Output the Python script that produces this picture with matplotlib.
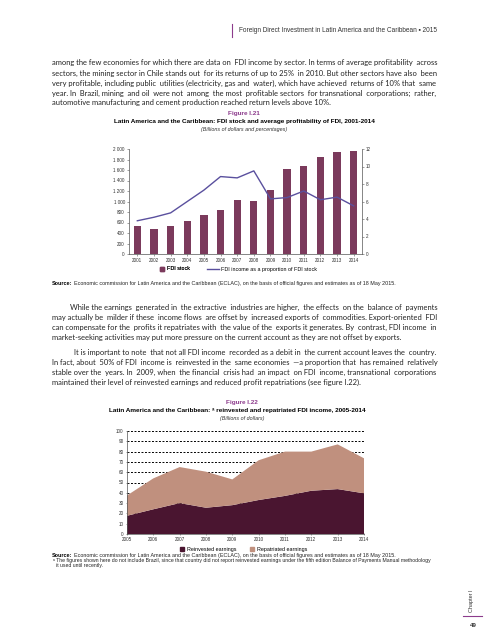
import numpy as np
import matplotlib
matplotlib.use("Agg")
import matplotlib.pyplot as plt
from matplotlib.lines import Line2D
from matplotlib.ticker import FuncFormatter

W, H = 489, 640

# figure I.21 data
years21 = [str(y) for y in range(2001, 2015)]
fdi_stock = [535, 478, 535, 632, 745, 842, 1030, 1013, 1218, 1626, 1684, 1855, 1950, 1970]
fdi_return = [3.8, 4.2, 4.7, 6.0, 7.3, 8.85, 8.7, 9.5, 6.3, 6.45, 7.2, 6.2, 6.5, 5.5]

# figure I.22 data
years22 = list(range(2005, 2015))
reinvested = [17.7, 24, 30, 25.5, 28, 33, 37, 42, 43.6, 39.5]
total_income = [37.4, 54, 65, 60.5, 53, 71.6, 80, 80, 87, 73.5]
repatriated = [t - r for t, r in zip(total_income, reinvested)]

para1 = [
    "among the few economies for which there are data on FDI income by sector. In terms of average profitability across",
    "sectors, the mining sector in Chile stands out for its returns of up to 25% in 2010. But other sectors have also been",
    "very profitable, including public utilities (electricity, gas and water), which have achieved returns of 10% that same",
    "year. In Brazil, mining and oil were not among the most profitable sectors for transnational corporations; rather,",
    "automotive manufacturing and cement production reached return levels above 10%.",
]
para2 = [
    "While the earnings generated in the extractive industries are higher, the effects on the balance of payments",
    "may actually be milder if these income flows are offset by increased exports of commodities. Export-oriented FDI",
    "can compensate for the profits it repatriates with the value of the exports it generates. By contrast, FDI income in",
    "market-seeking activities may put more pressure on the current account as they are not offset by exports.",
]
para3 = [
    "It is important to note that not all FDI income recorded as a debit in the current account leaves the country.",
    "In fact, about 50% of FDI income is reinvested in the same economies \u2014a proportion that has remained relatively",
    "stable over the years. In 2009, when the financial crisis had an impact on FDI income, transnational corporations",
    "maintained their level of reinvested earnings and reduced profit repatriations (see figure I.22).",
]
source_text = ("Economic commission for Latin America and the Caribbean (ECLAC), on the basis of official "
               "figures and estimates as of 18 May 2015.")

BODY = 'Lato'
CHART = ['Liberation Sans', 'DejaVu Sans']
PURPLE = '#8c3b8c'
BAR = '#7b3a5c'
LINE = '#5a509e'
DARK = '#4a1530'
LIGHT = '#c0907e'
X0, X1 = 52, 437


def fx(x):
    return x / W


def fy(y):
    return 1 - y / H


def text_width(fig, s, size):
    t = fig.text(0, 0, s, family=BODY, size=size)
    w = t.get_window_extent(fig.canvas.get_renderer()).width
    t.remove()
    return w


def justified(fig, lines, y0, dy, indent=0, size=5.8):
    # pad the gaps with extra spaces so that each line (except the last) fills X0..X1
    space = text_width(fig, "a a", size) - text_width(fig, "aa", size)
    for i, line in enumerate(lines):
        xs = X0 + (indent if i == 0 else 0)
        y = y0 + i * dy
        if i < len(lines) - 1:
            words = line.split()
            n = max(0, int(round((X1 - xs - text_width(fig, line, size)) / space)))
            gaps = len(words) - 1
            parts = []
            for k, word in enumerate(words[:-1]):
                add = (n * (k + 1)) // gaps - (n * k) // gaps
                parts.append(word + " " * (1 + add))
            line = "".join(parts) + words[-1]
        fig.text(fx(xs), fy(y), line, family=BODY, size=size, va='center_baseline', color='#222222')


def fit_size(fig, paras, size=6.3):
    ratio = 0
    for lines, indent in paras:
        for i, l in enumerate(lines[:-1]):
            avail = X1 - X0 - (indent if i == 0 else 0)
            ratio = max(ratio, text_width(fig, l, size) / avail)
    return min(size, size / ratio * 0.995)


def source_line(fig, y, size=3.9):
    renderer = fig.canvas.get_renderer()
    t = fig.text(fx(52), fy(y), "Source:", family=CHART, size=size, weight='bold', va='center')
    w = t.get_window_extent(renderer).width
    fig.text(fx(52 + w + 2), fy(y), source_text, family=CHART, size=size, va='center', color='#222222')


fig = plt.figure(figsize=(W / 100, H / 100), dpi=100)

# page header
fig.add_artist(Line2D([fx(232), fx(232)], [fy(24), fy(37)], color=PURPLE, lw=0.8))
fig.text(fx(437), fy(30.5), "Foreign Direct Investment in Latin America and the Caribbean \u25aa 2015",
         family=CHART, size=4.7, ha='right', va='center', color='#333333')

body_size = fit_size(fig, [(para1, 0), (para2, 18), (para3, 22)])
justified(fig, para1, 62.5, 10, size=body_size)
justified(fig, para2, 307, 10, indent=18, size=body_size)
justified(fig, para3, 352, 10, indent=22, size=body_size)

# ---------------- Figure I.21 ----------------
fig.text(fx(244), fy(113.5), "Figure I.21", family=CHART, size=4.6, weight='bold', color=PURPLE, ha='center', va='center')
fig.text(fx(244), fy(121.5), "Latin America and the Caribbean: FDI stock and average profitability of FDI, 2001-2014",
         family=CHART, size=4.6, weight='bold', ha='center', va='center')
fig.text(fx(244), fy(129), "(Billions of dollars and percentages)", family=CHART, size=3.9, style='italic',
         ha='center', va='center', color='#333333')

ax1 = fig.add_axes([fx(129), fy(254), (362 - 129) / W, (254 - 149) / H])
x = np.arange(len(years21))
ax1.bar(x, fdi_stock, width=0.44, color=BAR, zorder=2)
ax1.set_xlim(-0.5, len(years21) - 0.5)
ax1.set_ylim(0, 2000)
ax1.set_yticks(range(0, 2001, 200))
ax1.yaxis.set_major_formatter(FuncFormatter(lambda v, p: f"{int(v):,}".replace(",", " ")))
ax1.set_xticks(x)
ax1.set_xticklabels(years21)
ax1r = ax1.twinx()
ax1r.plot(x, fdi_return, color=LINE, lw=1.0, zorder=3)
ax1r.set_ylim(0, 12)
ax1r.set_yticks(range(0, 13, 2))
for a in (ax1, ax1r):
    a.spines['top'].set_visible(False)
    for s in a.spines.values():
        s.set_linewidth(0.5)
        s.set_color('#555555')
    a.tick_params(labelsize=3.3, length=1.5, width=0.4, pad=1.5, colors='#555555', labelcolor='#333333')
ax1.spines['right'].set_visible(False)
ax1r.spines['left'].set_visible(False)
ax1r.spines['bottom'].set_visible(False)
for lbl in ax1.get_xticklabels() + ax1.get_yticklabels() + ax1r.get_yticklabels():
    lbl.set_family(CHART)

leg_a = fig.legend([Line2D([], [], ls='', marker='s', markersize=3.2, color=BAR)], ["FDI stock"],
                   loc='center', bbox_to_anchor=(fx(175), fy(269)), frameon=False,
                   prop={'family': CHART, 'size': 3.9}, handlelength=0.8, handletextpad=0.5)
fig.legend([Line2D([], [], color=LINE, lw=1.0)], ["FDI income as a proportion of FDI stock"],
           loc='center', bbox_to_anchor=(fx(262), fy(269)), frameon=False,
           prop={'family': CHART, 'size': 3.9}, handlelength=2.2, handletextpad=0.5)
fig.add_artist(leg_a)

source_line(fig, 283.5)

# ---------------- Figure I.22 ----------------
fig.text(fx(242), fy(402.5), "Figure I.22", family=CHART, size=4.6, weight='bold', color=PURPLE, ha='center', va='center')
fig.text(fx(237), fy(410.7), "Latin America and the Caribbean: \u1d43 reinvested and repatriated FDI income, 2005-2014",
         family=CHART, size=4.6, weight='bold', ha='center', va='center')
fig.text(fx(242), fy(418.5), "(Billions of dollars)", family=CHART, size=3.9, style='italic',
         ha='center', va='center', color='#333333')

ax2 = fig.add_axes([fx(127), fy(534), (364 - 127) / W, (534 - 431) / H])
ax2.stackplot(years22, reinvested, repatriated, colors=[DARK, LIGHT], zorder=2)
ax2.set_xlim(2005, 2014)
ax2.set_ylim(0, 100)
ax2.set_yticks(range(0, 101, 10))
ax2.set_xticks(years22)
ax2.grid(axis='y', color='black', ls=(0, (2, 1.6)), lw=0.7, zorder=1)
ax2.set_axisbelow(True)
for s in ('top', 'right'):
    ax2.spines[s].set_visible(False)
for s in ('left', 'bottom'):
    ax2.spines[s].set_linewidth(0.5)
    ax2.spines[s].set_color('#555555')
ax2.tick_params(labelsize=3.3, length=2, width=0.4, pad=1.5, colors='#555555', labelcolor='#333333', direction='inout')
for lbl in ax2.get_xticklabels() + ax2.get_yticklabels():
    lbl.set_family(CHART)

h2 = [Line2D([], [], ls='', marker='s', markersize=3.2, color=DARK),
      Line2D([], [], ls='', marker='s', markersize=3.2, color=LIGHT)]
fig.legend(h2, ["Reinvested earnings", "Repatriated earnings"], loc='center',
           bbox_to_anchor=(fx(244), fy(549)), ncol=2, frameon=False, prop={'family': CHART, 'size': 3.9},
           handlelength=0.8, columnspacing=2.5, handletextpad=0.5)

source_line(fig, 555.7)
fig.text(fx(53), fy(560.7), "\u1d43 The figures shown here do not include Brazil, since that country did not report reinvested earnings under the fifth edition Balance of Payments Manual methodology",
         family=CHART, size=3.7, va='center', color='#222222')
fig.text(fx(56), fy(565), "it used until recently.", family=CHART, size=3.7, va='center', color='#222222')

# chapter tab
fig.text(fx(472), fy(601), "Chapter I", family=CHART, size=4.0, rotation=90, ha='center', va='center', color='#333333')
fig.add_artist(Line2D([fx(463), fx(482)], [fy(616), fy(616)], color=PURPLE, lw=0.8))
fig.text(fx(473), fy(625.5), "49", family=CHART, size=4.4, weight='bold', ha='center', va='center', color='#333333')

fig.savefig("out.png", dpi=100)
